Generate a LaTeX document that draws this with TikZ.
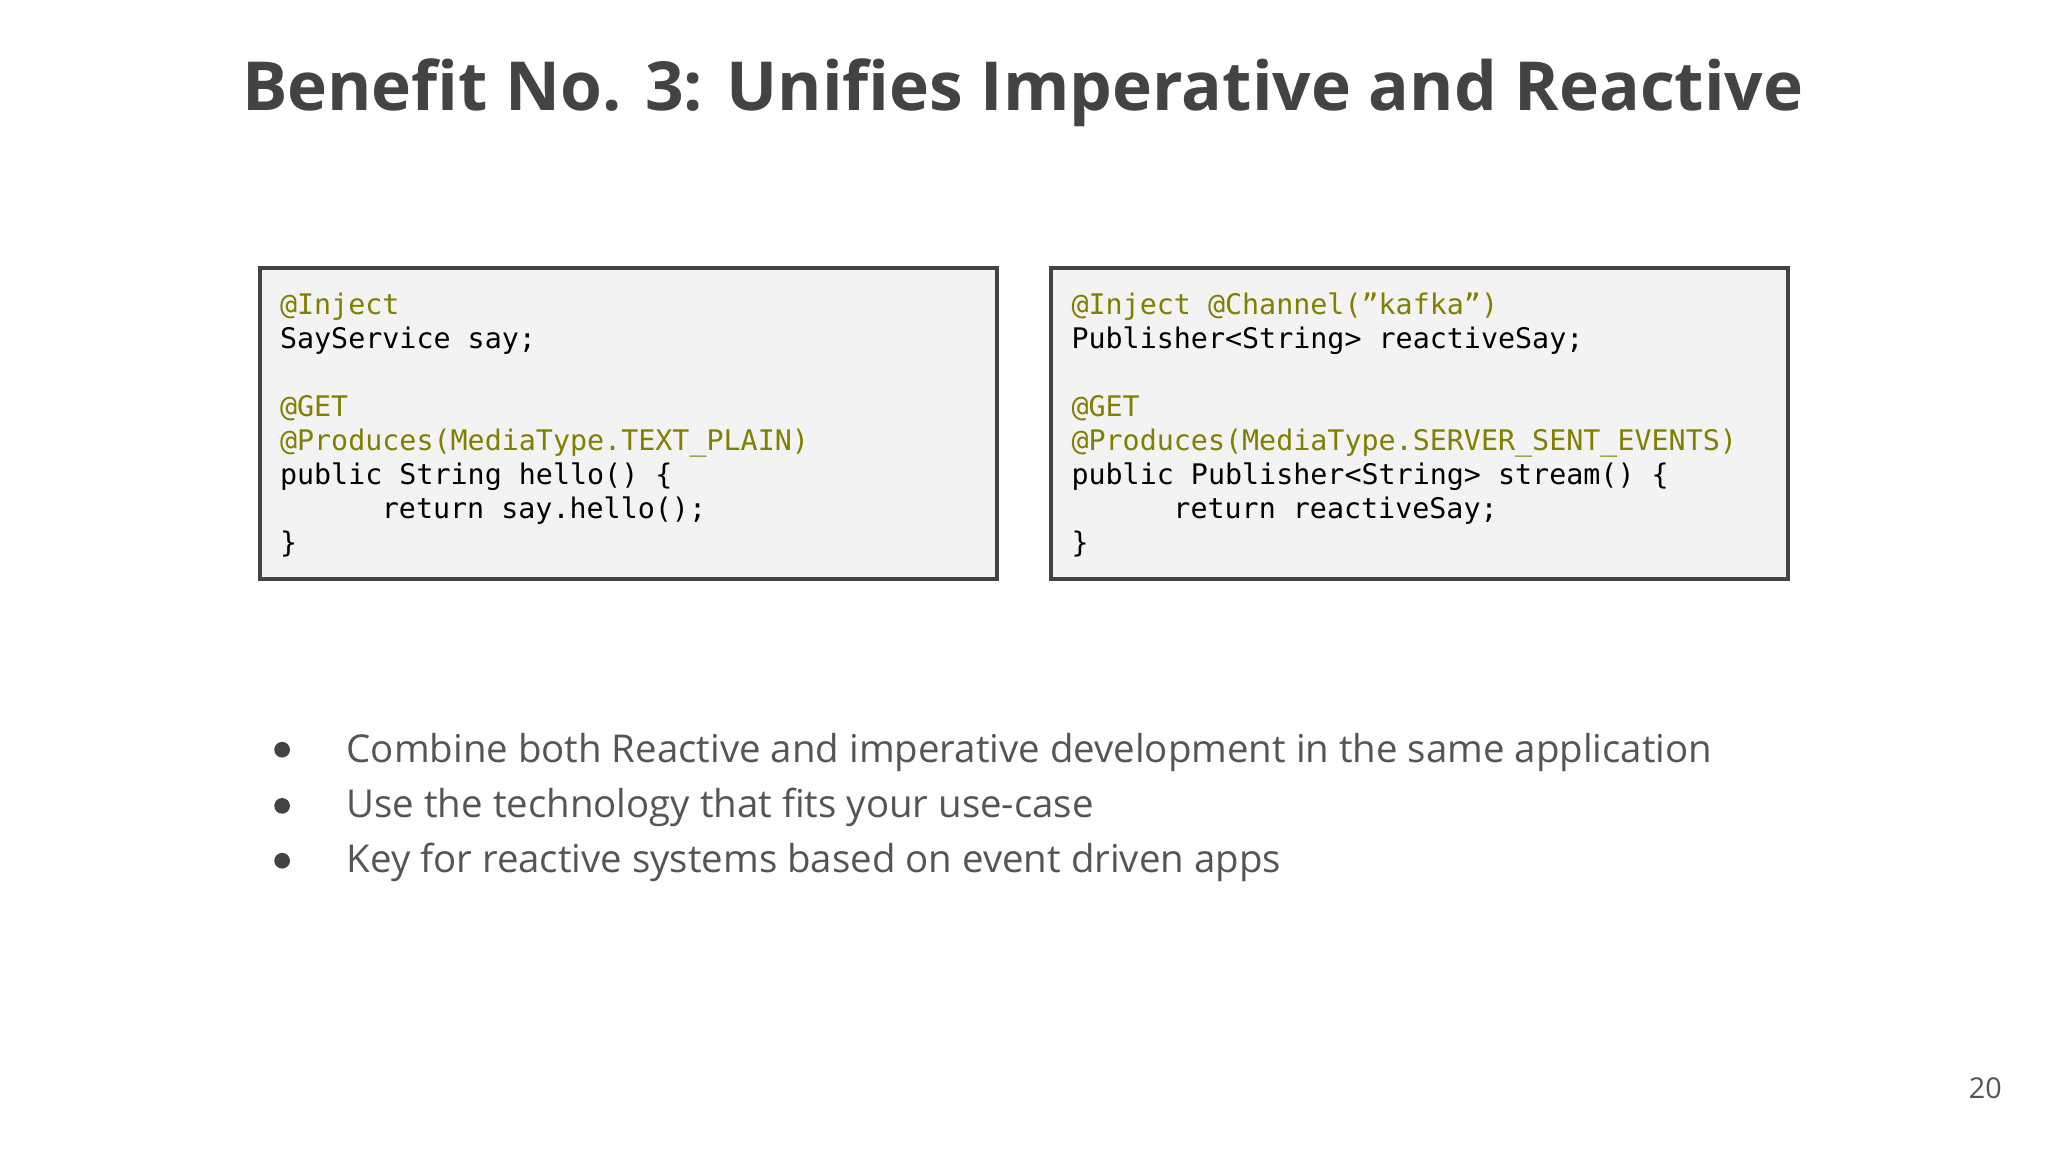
\documentclass[tikz,border=0pt]{standalone}
\usepackage{fontspec}
\setmainfont{Open Sans}
\setmonofont{DejaVu Sans Mono}
\definecolor{ttl}{HTML}{434343}
\definecolor{olv}{HTML}{7F7F00}
\definecolor{bx}{HTML}{F3F3F3}
\definecolor{txt}{HTML}{555555}
\tikzset{
  codebox/.style={draw=ttl,line width=1.5pt,fill=bx},
  code/.style={anchor=base west,inner sep=0pt,font=\ttfamily\fontsize{10.85}{12}\selectfont,text=black},
  ann/.style={code,text=olv},
  bul/.style={anchor=base west,inner sep=0pt,font=\fontsize{14.7}{18}\selectfont,text=txt},
  dot/.style={circle,fill=ttl,inner sep=0pt,minimum size=6pt}
}
\begin{document}
\begin{tikzpicture}[x=0.5pt,y=-0.5pt]
\useasboundingbox[fill=white] (0,0) rectangle (1568,882);
\node[font=\bfseries\fontsize{25.9}{31}\selectfont,text=ttl] (title) at (783,71) {Benefit No. 3: Unifies Imperative and Reactive};
\draw[codebox] (199,205) rectangle (763,443);
\draw[codebox] (805,205) rectangle (1369,443);
\node[ann] (l1) at (214,241) {@Inject};
\node[code] (l2) at (214,267) {SayService say;};
\node[ann] (l3) at (214,319) {@GET};
\node[ann] (l4) at (214,345) {@Produces(MediaType.TEXT\_PLAIN)};
\node[code] (l5) at (214,371) {public String hello() \{};
\node[code] (l6) at (292,397) {return say.hello();};
\node[code] (l7) at (214,423) {\}};
\node[ann] (r1) at (820,241) {@Inject @Channel(”kafka”)};
\node[code] (r2) at (820,267) {Publisher<String> reactiveSay;};
\node[ann] (r3) at (820,319) {@GET};
\node[ann] (r4) at (820,345) {@Produces(MediaType.SERVER\_SENT\_EVENTS)};
\node[code] (r5) at (820,371) {public Publisher<String> stream() \{};
\node[code] (r6) at (898,397) {return reactiveSay;};
\node[code] (r7) at (820,423) {\}};
\node[dot] (d1) at (216,574) {};
\node[dot] (d2) at (216,617) {};
\node[dot] (d3) at (216,659) {};
\node[bul] (b1) at (265,584) {Combine both Reactive and imperative development in the same application};
\node[bul] (b2) at (265,626) {Use the technology that fits your use-case};
\node[bul] (b3) at (265,668) {Key for reactive systems based on event driven apps};
\node[font=\fontsize{11}{13}\selectfont,text=txt] (pg) at (1520,833) {20};
\end{tikzpicture}
\end{document}
